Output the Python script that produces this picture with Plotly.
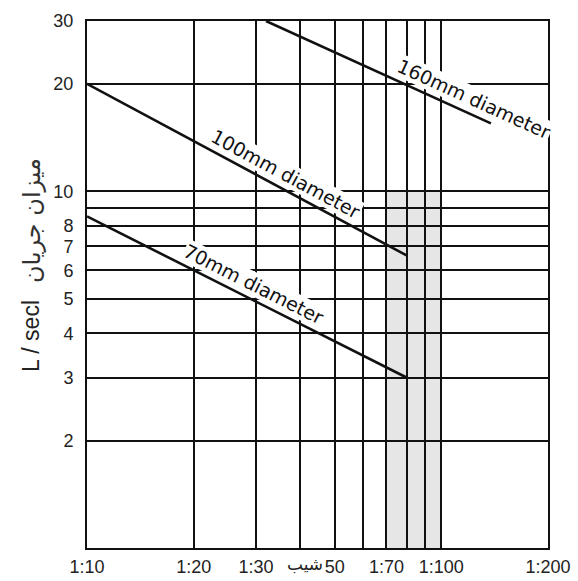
import plotly.graph_objects as go
import math

# ---- data ----
slope_ticks = [10, 20, 30, 40, 50, 60, 70, 80, 90, 100, 200]
slope_labels = ["1:10", "1:20", "1:30", "", "50", "", "1:70", "", "", "1:100", "1:200"]
flow_ticks = [2, 3, 4, 5, 6, 7, 8, 9, 10, 20, 30]
flow_labels = ["2", "3", "4", "5", "6", "7", "8", "", "10", "20", "30"]

slope_160 = [32, 138]
flow_160 = [30, 15.5]
slope_100 = [10, 80]
flow_100 = [20, 6.6]
slope_70 = [10, 80]
flow_70 = [8.5, 3.0]

band_slope = [70, 100]
band_flow = [1, 10]

series = [
    ("160mm diameter", slope_160, flow_160),
    ("100mm diameter", slope_100, flow_100),
    ("70mm diameter", slope_70, flow_70),
]

# ---- layout geometry ----
W, H = 578, 581
ML, MR, MT, MB = 87, 30, 21, 33
PW, PH = W - ML - MR, H - MT - MB
XR = [1, math.log10(200)]
YR = [0, math.log10(30)]


def px(x):
    return ML + (math.log10(x) - XR[0]) / (XR[1] - XR[0]) * PW


def py(y):
    return MT + (YR[1] - math.log10(y)) / (YR[1] - YR[0]) * PH


def to_paper(xp, yp):
    return (xp - ML) / PW, (H - MB - yp) / PH


# label: pixel x of centre along each line, perpendicular offset
label_cfg = {
    "160mm diameter": (468, 15),
    "100mm diameter": (279, 15),
    "70mm diameter": (247, 15),
}

fig = go.Figure()
for name, xs, ys in series:
    fig.add_trace(go.Scatter(x=xs, y=ys, mode="lines", name=name,
                             line=dict(color="#111111", width=2.6),
                             showlegend=False, hoverinfo="skip"))

fig.add_shape(type="rect", xref="x", yref="y",
              x0=band_slope[0], x1=band_slope[1], y0=band_flow[0], y1=band_flow[1],
              fillcolor="#e6e6e6", line=dict(width=0), layer="below")

for name, xs, ys in series:
    cx, off = label_cfg[name]
    x0, y0 = px(xs[0]), py(ys[0])
    x1, y1 = px(xs[1]), py(ys[1])
    ang = math.degrees(math.atan2(y1 - y0, x1 - x0))
    ly = y0 + (cx - x0) * (y1 - y0) / (x1 - x0)
    nx, ny = math.sin(math.radians(ang)), -math.cos(math.radians(ang))
    pxp, pyp = to_paper(cx + nx * off, ly + ny * off)
    fig.add_annotation(x=pxp, y=pyp, xref="paper", yref="paper",
                       xanchor="center", yanchor="middle",
                       text=name, showarrow=False, textangle=ang,
                       font=dict(family="DejaVu Sans", size=19, color="#111111"),
                       bgcolor="white", borderpad=0)

# y-axis title
ax_, ay_ = to_paper(31, 336)
fig.add_annotation(x=ax_, y=ay_, xref="paper", yref="paper",
                   xanchor="center", yanchor="middle",
                   text="L / secl", showarrow=False, textangle=-90,
                   font=dict(family="Liberation Sans, Arial", size=23, color="#222222"))
ax_, ay_ = to_paper(32, 221)
fig.add_annotation(x=ax_, y=ay_, xref="paper", yref="paper",
                   xanchor="center", yanchor="middle",
                   text="میزان جریان", showarrow=False, textangle=-90,
                   font=dict(family="DejaVu Sans", size=24, color="#333333"))
# x-axis title
ax_, ay_ = to_paper(305, 564)
fig.add_annotation(x=ax_, y=ay_, xref="paper", yref="paper",
                   xanchor="center", yanchor="middle",
                   text="شیب", showarrow=False,
                   font=dict(family="DejaVu Sans", size=17, color="#222222"))

fig.update_xaxes(type="log", range=XR,
                 tickvals=slope_ticks, ticktext=slope_labels,
                 showgrid=True, gridcolor="#111111", gridwidth=1.6,
                 showline=True, linecolor="#111111", linewidth=2, mirror=True,
                 ticks="", ticklabelstandoff=1, zeroline=False, automargin=False,
                 tickfont=dict(family="Liberation Sans, Arial", size=18, color="#222222"))
fig.update_yaxes(type="log", range=YR,
                 tickvals=flow_ticks, ticktext=flow_labels,
                 showgrid=True, gridcolor="#111111", gridwidth=1.6,
                 showline=True, linecolor="#111111", linewidth=2, mirror=True,
                 ticks="", ticklabelstandoff=8, zeroline=False, automargin=False,
                 tickfont=dict(family="Liberation Sans, Arial", size=18, color="#222222"))

fig.update_layout(width=W, height=H,
                  margin=dict(l=ML, r=MR, t=MT, b=MB, autoexpand=False),
                  paper_bgcolor="white", plot_bgcolor="white",
                  showlegend=False)

fig.write_html("out.html", config={"displayModeBar": False},
               post_script="document.body.style.margin='0';document.body.style.overflow='hidden';")
